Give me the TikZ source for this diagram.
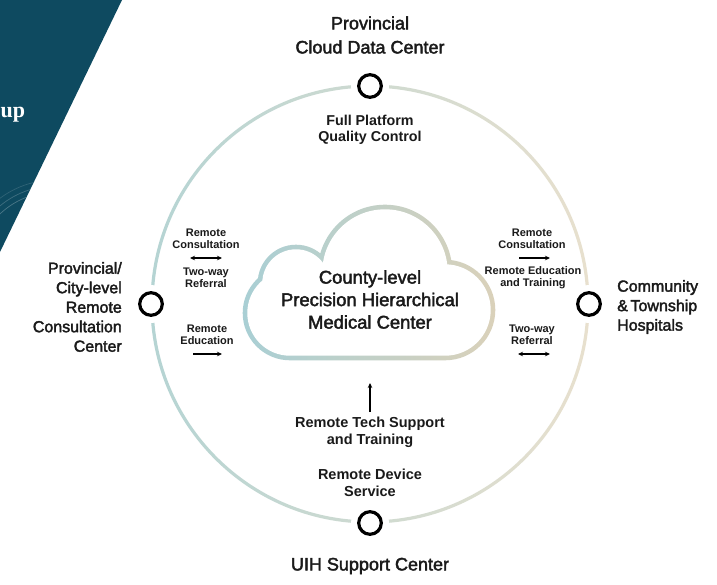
\documentclass[tikz,border=0pt]{standalone}
\usepackage{fontspec}
\setmainfont{Liberation Sans}
\newfontfamily\medf[FakeBold=2.2]{Liberation Sans}
\newfontfamily\serifup{Liberation Serif}
\usetikzlibrary{arrows.meta}
\definecolor{darkteal}{HTML}{0E4A60}
\definecolor{ringL}{HTML}{B5D4D3}
\definecolor{ringR}{HTML}{E8E0CE}
\definecolor{cloudL}{HTML}{A9CFD4}
\definecolor{cloudR}{HTML}{DAD1BA}
\definecolor{txt}{HTML}{1A1A1A}
\newcommand\cloudpath[1]{(290,-313) circle ({45+#1}) (296,-283) circle ({36+#1}) (385,-272) circle ({65+#1}) (445,-310) circle ({48+#1}) (290,{-358-#1}) -- (445,{-358-#1}) -- (445,-290) -- (290,-290) -- cycle}
\tikzset{
  biglab/.style={font=\medf\fontsize{18}{24}\selectfont, align=center, inner sep=0pt, text=txt},
  sidelab/.style={font=\medf\fontsize{16}{19.5}\selectfont, inner sep=0pt, text=txt},
  cloudtxt/.style={font=\medf\fontsize{18.4}{22.5}\selectfont, align=center, inner sep=0pt, text=txt},
  midlab/.style={font=\bfseries\fontsize{14.3}{15.5}\selectfont, align=center, inner sep=0pt, text=txt},
  midlabb/.style={font=\bfseries\fontsize{14.5}{17}\selectfont, align=center, inner sep=0pt, text=txt},
  smalllab/.style={font=\bfseries\fontsize{11}{12}\selectfont, align=center, inner sep=0pt, text=txt},
  hub/.style={circle, draw=black, line width=3.2pt, fill=white, minimum size=22.6pt, inner sep=0pt},
  flow/.style={line width=1.1pt, -{Stealth[length=5pt,width=4.5pt]}},
  bothflow/.style={line width=1.1pt, {Stealth[length=5pt,width=4.5pt]}-{Stealth[length=5pt,width=4.5pt]}}
}
\begin{document}
\begin{tikzpicture}[x=1pt,y=1pt]
\useasboundingbox (0,0) rectangle (717,-584);
\fill[white] (0,0) rectangle (717,-584);
% dark corner decoration
\fill[darkteal] (0,0) -- (122,0) -- (0,-252) -- cycle;
\begin{scope}
  \clip (0,0) -- (122,0) -- (0,-252) -- cycle;
  \foreach \r/\o in {80/0.25,86/0.2,92/0.14}
    \draw[white, opacity=\o, line width=0.7pt] (55,-272) circle (\r);
\end{scope}
\node[font=\serifup\bfseries\fontsize{22}{22}\selectfont, text=white, anchor=base west, inner sep=0pt] (up) at (0.5,-117) {up};
% ring
\shade[left color=ringL, right color=ringR, even odd rule] (370,-304) circle (219.6) (370,-304) circle (216.4);
% hub positions
\coordinate (ctop) at (370,-86);
\coordinate (cleft) at (151,-304);
\coordinate (cright) at (589,-304);
\coordinate (cbot) at (370,-523);
\foreach \c in {ctop,cleft,cright,cbot} \fill[white] (\c) circle (19);
\node[hub] (top) at (ctop) {};
\node[hub] (left) at (cleft) {};
\node[hub] (right) at (cright) {};
\node[hub] (bot) at (cbot) {};
% cloud
\shade[left color=cloudL, right color=cloudR] \cloudpath{2.3};
\fill[white] \cloudpath{-2.3};
\node[cloudtxt] (center) at (370,-299.5) {County-level\\Precision Hierarchical\\Medical Center};
% big labels
\node[biglab] (toplab) at (370,-35) {Provincial\\Cloud Data Center};
\node[biglab] (botlab) at (370,-566) {UIH Support Center};
\node[sidelab, align=right, anchor=east] (leftlab) at (122,-307) {Provincial/\\City-level\\Remote\\Consultation\\Center};
\node[sidelab, align=left, anchor=west] (rightlab) at (617,-307) {Community\\\&\,Township\\Hospitals};
% top / bottom inner labels
\node[midlab] (fpq) at (370,-130) {Full Platform\\Quality Control};
\node[midlabb] (rts) at (370,-432) {Remote Tech Support\\and Training};
\node[midlabb] (rds) at (370,-482.5) {Remote Device\\Service};
\coordinate (bua) at (370,-412);
\coordinate (bub) at (370,-383);
\draw[flow] (bua) -- (bub);
% left inner labels
\node[smalllab] (lrc) at (206,-239) {Remote\\Consultation};
\coordinate (la1) at (190,-258);
\coordinate (la2) at (222,-258);
\draw[bothflow] (la1) -- (la2);
\node[smalllab] (ltw) at (206,-277.5) {Two-way\\Referral};
\node[smalllab] (lre) at (207,-334.5) {Remote\\Education};
\coordinate (lb1) at (193,-354);
\coordinate (lb2) at (222,-354);
\draw[flow] (lb1) -- (lb2);
% right inner labels
\node[smalllab] (rrc) at (532,-239) {Remote\\Consultation};
\coordinate (ra1) at (519,-258);
\coordinate (ra2) at (550,-258);
\draw[flow] (ra1) -- (ra2);
\node[smalllab] (rre) at (533,-278) {Remote Education\\and Training};
\node[smalllab] (rtw) at (532,-335) {Two-way\\Referral};
\coordinate (rb1) at (518,-354);
\coordinate (rb2) at (550,-354);
\draw[bothflow] (rb1) -- (rb2);
\end{tikzpicture}
\end{document}
